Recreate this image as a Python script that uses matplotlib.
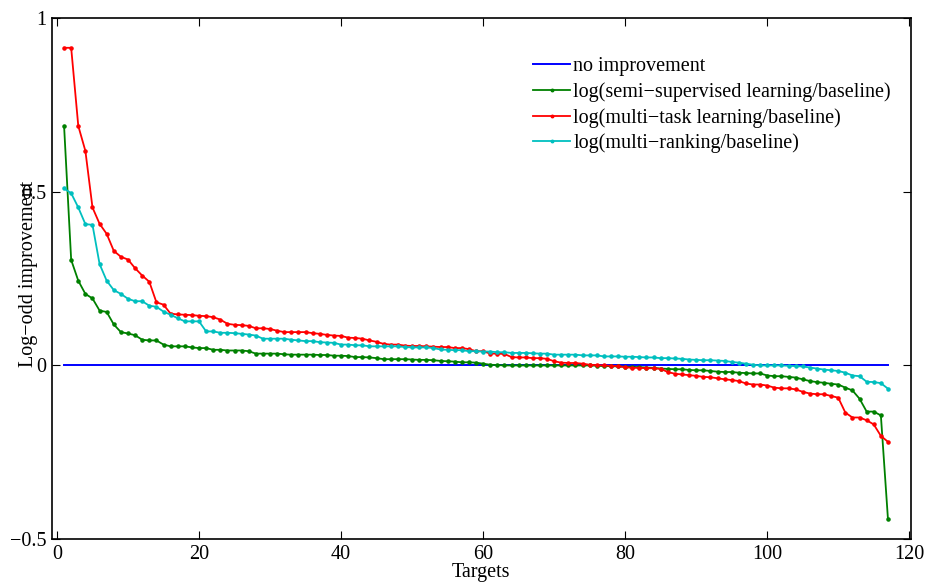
import matplotlib
matplotlib.use("Agg")
import matplotlib.pyplot as plt
import numpy as np

targets = list(range(1, 118))

multi_task = [
    0.915, 0.915, 0.69, 0.618, 0.455, 0.408, 0.379, 0.33, 0.313, 0.305,
    0.28, 0.259, 0.241, 0.182, 0.175, 0.149, 0.147, 0.146, 0.145, 0.143,
    0.142, 0.139, 0.132, 0.12, 0.117, 0.116, 0.114, 0.107, 0.107, 0.105,
    0.1, 0.096, 0.096, 0.096, 0.096, 0.093, 0.091, 0.088, 0.086, 0.085,
    0.08, 0.079, 0.077, 0.072, 0.068, 0.062, 0.06, 0.06, 0.057, 0.056,
    0.056, 0.055, 0.054, 0.053, 0.053, 0.05, 0.05, 0.047, 0.041, 0.041,
    0.034, 0.034, 0.033, 0.024, 0.023, 0.023, 0.021, 0.021, 0.019, 0.012,
    0.008, 0.007, 0.007, 0.005, 0.002, 0.001, 0.0, -0.001, -0.002, -0.005,
    -0.007, -0.007, -0.008, -0.008, -0.01, -0.019, -0.024, -0.026, -0.028, -0.03,
    -0.033, -0.034, -0.037, -0.04, -0.042, -0.045, -0.052, -0.055, -0.055, -0.058,
    -0.064, -0.066, -0.066, -0.069, -0.076, -0.081, -0.083, -0.083, -0.088, -0.093,
    -0.136, -0.15, -0.15, -0.158, -0.17, -0.203, -0.22,
]

semi_supervised = [
    0.69, 0.304, 0.244, 0.206, 0.193, 0.158, 0.154, 0.118, 0.096, 0.092,
    0.087, 0.074, 0.072, 0.072, 0.06, 0.055, 0.055, 0.055, 0.052, 0.05,
    0.05, 0.045, 0.045, 0.043, 0.043, 0.043, 0.041, 0.034, 0.034, 0.034,
    0.034, 0.032, 0.031, 0.031, 0.031, 0.031, 0.03, 0.03, 0.028, 0.028,
    0.027, 0.024, 0.024, 0.023, 0.021, 0.018, 0.018, 0.018, 0.018, 0.017,
    0.016, 0.016, 0.015, 0.013, 0.012, 0.011, 0.009, 0.009, 0.008, 0.005,
    0.002, 0.001, 0.0, 0.0, 0.0, 0.0, 0.0, 0.0, 0.0, 0.0,
    0.0, 0.0, 0.0, 0.0, 0.0, -0.001, -0.002, -0.002, -0.003, -0.004,
    -0.004, -0.005, -0.006, -0.007, -0.009, -0.01, -0.011, -0.011, -0.013, -0.014,
    -0.014, -0.016, -0.018, -0.019, -0.019, -0.021, -0.022, -0.023, -0.023, -0.029,
    -0.031, -0.031, -0.033, -0.035, -0.04, -0.045, -0.048, -0.05, -0.053, -0.055,
    -0.064, -0.072, -0.096, -0.133, -0.133, -0.144, -0.443,
]

multi_ranking = [
    0.51, 0.496, 0.455, 0.407, 0.405, 0.292, 0.244, 0.217, 0.206, 0.192,
    0.185, 0.185, 0.172, 0.169, 0.155, 0.146, 0.136, 0.127, 0.127, 0.127,
    0.098, 0.098, 0.094, 0.094, 0.093, 0.091, 0.089, 0.086, 0.077, 0.077,
    0.077, 0.077, 0.074, 0.072, 0.07, 0.07, 0.067, 0.066, 0.065, 0.06,
    0.06, 0.058, 0.058, 0.055, 0.055, 0.055, 0.055, 0.055, 0.053, 0.052,
    0.052, 0.052, 0.05, 0.046, 0.045, 0.044, 0.044, 0.041, 0.041, 0.04,
    0.04, 0.038, 0.038, 0.036, 0.036, 0.036, 0.035, 0.034, 0.034, 0.031,
    0.031, 0.031, 0.031, 0.029, 0.029, 0.029, 0.026, 0.026, 0.026, 0.025,
    0.025, 0.024, 0.023, 0.023, 0.021, 0.021, 0.02, 0.019, 0.017, 0.016,
    0.015, 0.015, 0.014, 0.013, 0.01, 0.008, 0.005, 0.002, 0.0, 0.0,
    0.0, 0.0, -0.001, -0.002, -0.003, -0.006, -0.009, -0.012, -0.014, -0.016,
    -0.021, -0.029, -0.031, -0.047, -0.048, -0.051, -0.067,
]

no_improvement = [0.0] * len(targets)

labels = [
    "no improvement",
    "log(semi\u2212supervised learning/baseline)",
    "log(multi\u2212task learning/baseline)",
    "log(multi\u2212ranking/baseline)",
]
xticks = [0, 20, 40, 60, 80, 100, 120]
yticks = [-0.5, 0, 0.5, 1]
yticklabels = ["\u22120.5", "0", "0.5", "1"]

plt.rcParams["font.family"] = ["Liberation Serif", "DejaVu Serif"]

fig = plt.figure(figsize=(9.28, 5.82), dpi=100)
ax = fig.add_axes([52 / 928, 1 - 539 / 582, (910.7 - 52) / 928, (539 - 18.3) / 582])

ax.plot(targets, no_improvement, color=(0, 0, 1), lw=1.4, label=labels[0])
ax.plot(targets, semi_supervised, color=(0, 0.5, 0), lw=1.3, marker=".", ms=4.5, label=labels[1])
ax.plot(targets, multi_task, color=(1, 0, 0), lw=1.3, marker=".", ms=4.5, label=labels[2])
ax.plot(targets, multi_ranking, color=(0, 0.75, 0.75), lw=1.3, marker=".", ms=4.5, label=labels[3])

ax.set_xlim(-0.7, 120.2)
ax.set_ylim(-0.5, 1.0)
ax.set_xticks(xticks)
ax.set_xticklabels([str(t) for t in xticks])
ax.set_yticks(yticks)
ax.set_yticklabels(yticklabels)
ax.tick_params(direction="in", length=6, width=0.8, top=True, right=True,
               labelsize=14.5, pad=4)
for s in ax.spines.values():
    s.set_linewidth(1.2)

ax.set_xlabel("Targets", fontsize=14.5)
ax.set_ylabel("Log\u2212odd improvement", fontsize=14.5)
ax.xaxis.set_label_coords(0.5, -0.047)
ax.yaxis.set_label_coords(-0.016, 0.51)

leg = ax.legend(loc="upper left", bbox_to_anchor=(533 / 928, 1 - 57 / 582),
                bbox_transform=fig.transFigure, frameon=False, fontsize=14.5,
                handlelength=1.85, handletextpad=0.15, labelspacing=0.3,
                borderpad=0, borderaxespad=0, markerscale=0.8)

fig.savefig("out.png", dpi=100)
